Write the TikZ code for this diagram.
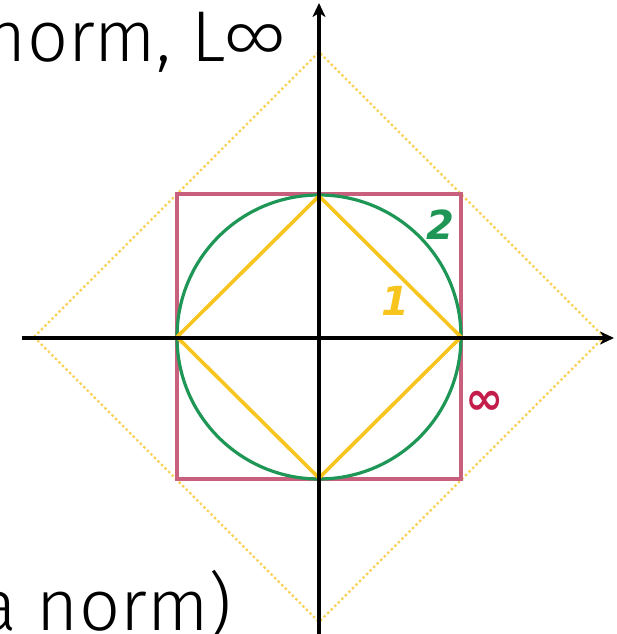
\documentclass[tikz,border=0pt]{standalone}
\usepackage{fontspec}
\setmainfont{Fira Sans Light}
\newfontfamily\labfont{DejaVu Sans}
\usetikzlibrary{arrows.meta}
\definecolor{sqcol}{RGB}{200,95,125}
\definecolor{circcol}{RGB}{30,150,85}
\definecolor{diacol}{RGB}{248,196,30}
\definecolor{outcol}{RGB}{250,210,90}
\definecolor{infcol}{RGB}{195,30,75}
\tikzset{
  axis/.style={line width=3.2pt,black,-{Stealth[length=14pt,width=13pt,inset=4pt]}},
  normlabel/.style={font=\labfont\bfseries\itshape\fontsize{40}{40}\selectfont,inner sep=0pt},
  bigtext/.style={font=\fontsize{72}{80}\selectfont,inner sep=0pt}
}
\begin{document}
\begin{tikzpicture}[x=1pt,y=-1pt]
\useasboundingbox (0,0) rectangle (616,634);
\clip (0,0) rectangle (616,634);
\coordinate (O) at (319,337);
% outer dotted diamond
\draw[outcol,line width=2.4pt,dash pattern=on 2.4pt off 2.6pt] (O)++(-285,0) -- ++(285,-285) -- ++(285,285) -- ++(-285,285) -- cycle;
% square
\draw[sqcol,line width=4.5pt] (O)++(-142,-143) rectangle ++(284,285);
% circle
\draw[circcol,line width=3.2pt] (O) circle[radius=142];
% inner diamond
\draw[diacol,line width=3.6pt,line join=miter] (O)++(-142,0) -- ++(142,-141) -- ++(142,141) -- ++(-142,141) -- cycle;
% axes
\coordinate (xl) at (22,338);
\coordinate (xr) at (614,338);
\coordinate (yb) at (319,640);
\coordinate (yt) at (319,3);
\draw[axis] (xl) -- (xr);
\draw[axis] (yb) -- (yt);
% labels
\node[normlabel,text=circcol] (l2) at (440,225) {2};
\node[normlabel,text=diacol] (l1) at (395,301) {1};
\node[normlabel,text=infcol,font=\labfont\bfseries\fontsize{46}{46}\selectfont] (linf) at (485,403) {∞};
% texts
\node[bigtext,anchor=base east] (t1) at (287,61) {norm, L∞};
\node[bigtext,anchor=base east] (t2) at (232,630) {a norm)};
\end{tikzpicture}
\end{document}
